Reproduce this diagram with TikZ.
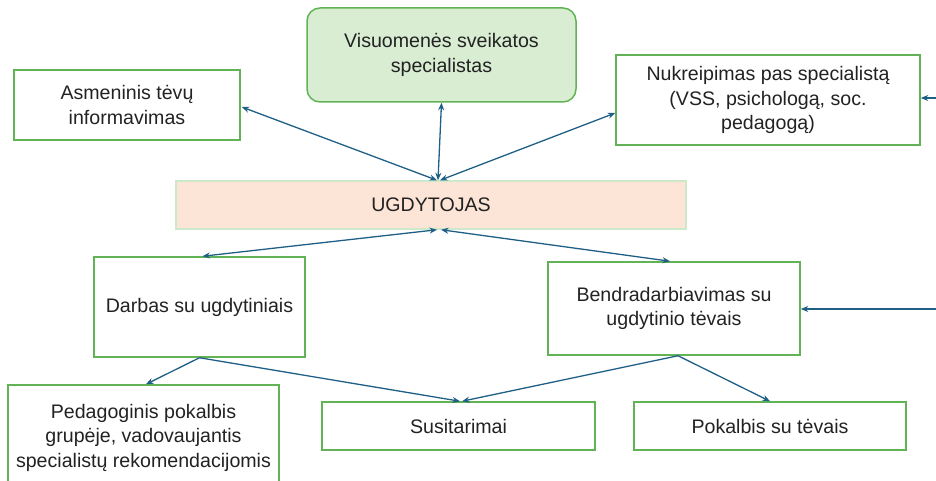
\documentclass[tikz,border=0pt]{standalone}
\usepackage{fontspec}
\setmainfont{Liberation Sans}
\usetikzlibrary{arrows.meta,calc}
\definecolor{boxgreen}{HTML}{62B356}
\definecolor{vssfill}{HTML}{D9EDD3}
\definecolor{ugfill}{HTML}{FCE4D6}
\definecolor{ugedge}{HTML}{CDE8CB}
\definecolor{linkblue}{HTML}{1F5F86}
\definecolor{txt}{HTML}{222222}
\begin{document}
\begin{tikzpicture}[x=1pt,y=-1pt,
  box/.style={draw=boxgreen, line width=1.5pt, align=center, text=txt,
    font=\fontsize{19.6}{24.5}\selectfont, inner sep=0pt},
  tip/.tip={Stealth[length=7.5pt,width=6pt]},
  twoway/.style={draw=linkblue, line width=1.3pt, tip-tip},
  oneway/.style={draw=linkblue, line width=1.3pt, -tip}]
\useasboundingbox (0,0) rectangle (936,481);

% upper row
\node[box, minimum width=226pt, minimum height=70pt] (asm) at (127,105)
  {Asmeninis tėvų\\informavimas};
\node[box, fill=vssfill, rounded corners=13pt, minimum width=269pt, minimum height=94pt] (vss) at (441.5,55)
  {Visuomenės sveikatos\\specialistas};
\node[box, minimum width=304pt, minimum height=90pt] (nuk) at (768,100)
  {Nukreipimas pas specialistą\\(VSS, psichologą, soc.\\pedagogą)};

% central actor
\node[box, draw=ugedge, fill=ugfill, minimum width=510pt, minimum height=48pt] (ug) at (431,205)
  {UGDYTOJAS};

% middle row
\node[box, minimum width=211pt, minimum height=100pt] (darb) at (199.5,307)
  {Darbas su ugdytiniais};
\node[box, minimum width=252pt, minimum height=93pt] (bend) at (674,308.5)
  {Bendradarbiavimas su\\ugdytinio tėvais};

% lower row
\node[box, minimum width=271pt, minimum height=105pt] (ped) at (143.5,437.5)
  {Pedagoginis pokalbis\\grupėje, vadovaujantis\\specialistų rekomendacijomis};
\node[box, minimum width=273pt, minimum height=48pt] (sus) at (458.5,426)
  {Susitarimai};
\node[box, minimum width=272pt, minimum height=48pt] (pok) at (770,426)
  {Pokalbis su tėvais};

% incoming links from the right margin
\coordinate (e1) at (937,98);
\coordinate (e2) at (937,309);

% connectors
\draw[twoway] ($(ug.north)+(6,0)$) -- ($(asm.east)+(1,2)$);
\draw[twoway] ($(ug.north)+(7,0)$) -- (vss.south);
\draw[twoway] ($(ug.north)+(9,0)$) -- ($(nuk.west)+(0,13)$);
\draw[oneway] (e1) -- (e1 -| nuk.east);

\draw[twoway] ($(ug.south)+(6,0)$) -- ($(darb.north)+(3,0)$);
\draw[twoway] ($(ug.south)+(10,0)$) -- ($(bend.north)+(-4,0)$);
\draw[oneway] (e2) -- (e2 -| bend.east);

\draw[oneway] (darb.south) -- ($(ped.north)+(2.5,0)$);
\draw[oneway] (darb.south) -- ($(sus.north)+(1.5,0)$);
\draw[oneway] ($(bend.south)+(4,0)$) -- ($(sus.north)+(3.5,0)$);
\draw[oneway] ($(bend.south)+(4,0)$) -- (pok.north);
\end{tikzpicture}
\end{document}
